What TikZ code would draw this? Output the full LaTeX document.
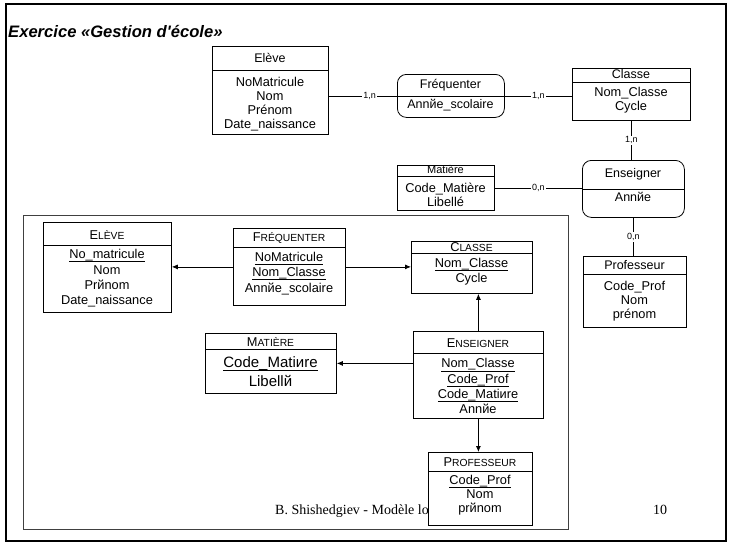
\documentclass[tikz,border=0pt]{standalone}
\usepackage{fontspec}
\setmainfont{Liberation Sans}
\newfontfamily\footfont{Liberation Serif}
\usetikzlibrary{positioning,arrows.meta}
\newcommand\souligne[1]{\underline{\smash{#1}\rule[-1.5pt]{0pt}{9.5pt}}}

\begin{document}
\begin{tikzpicture}[x=1pt,y=-1pt,
  ent/.style={draw,line width=0.8pt,inner sep=0pt,anchor=north west},
  asso/.style={draw,line width=0.8pt,rounded corners=9pt,inner sep=0pt,anchor=north west},
  attr/.style={inner sep=0pt,align=center,font=\fontsize{12.8}{14}\selectfont},
  rattr/.style={inner sep=0pt,align=center,font=\fontsize{12.8}{15.3}\selectfont},
  hd/.style={inner sep=0pt,font=\fontsize{12.5}{14}\selectfont},
  sc/.style={inner sep=0pt,font=\fontsize{10.3}{11}\selectfont},
  card/.style={fill=white,inner sep=1pt,font=\fontsize{9}{10}\selectfont},
  arr/.style={line width=0.8pt,-{Latex[length=6pt,width=5pt]}}]
\useasboundingbox (0,0) rectangle (731,546);
\draw[line width=2.5pt] (6,4) rectangle (726,541);
\node[anchor=west,inner sep=0pt,font=\fontsize{16.6}{18}\selectfont\bfseries\itshape] (titre) at (8,31) {Exercice «Gestion d\textquotesingle école»};

% modele conceptuel
\node[ent,minimum width=116,minimum height=88] (eleve) at (212,46) {};
\node[hd] (eleve-h) at (270,58) {Elève};
\draw[line width=0.8pt] (eleve.west |- 0,70) -- (eleve.east |- 0,70);
\node[attr] (eleve-a) at (270,104) {NoMatricule\\Nom\\Prénom\\Date\_naissance};

\node[asso,minimum width=107,minimum height=43] (freq) at (397,74) {};
\node[hd] (freq-h) at (450.5,85) {Fréquenter};
\node[hd] (freq-a) at (450.5,105) {Annйe\_scolaire};
\draw[line width=0.8pt] (freq.west) -- (freq.east);

\node[ent,minimum width=118,minimum height=52] (classe) at (572,68) {};
\node[hd] (classe-h) at (631,74.5) {Classe};
\draw[line width=0.8pt] (classe.west |- 0,82) -- (classe.east |- 0,82);
\node[attr] (classe-a) at (631,100) {Nom\_Classe\\Cycle};

\node[asso,minimum width=102,minimum height=57] (ens) at (582,160) {};
\node[hd] (ens-h) at (633,174) {Enseigner};
\node[hd] (ens-a) at (633,197) {Annйe};
\draw[line width=0.8pt] (ens.west) -- (ens.east);

\node[ent,minimum width=97,minimum height=45] (mat) at (397,165) {};
\node[hd,font=\fontsize{11}{12}\selectfont] (mat-h) at (445.5,170) {Matière};
\draw[line width=0.8pt] (mat.west |- 0,176) -- (mat.east |- 0,176);
\node[attr] (mat-a) at (445.5,195) {Code\_Matière\\Libellé};

\node[ent,minimum width=103,minimum height=71] (prof) at (583,256) {};
\node[hd] (prof-h) at (634.5,265) {Professeur};
\draw[line width=0.8pt] (prof.west |- 0,274) -- (prof.east |- 0,274);
\node[attr] (prof-a) at (634.5,301) {Code\_Prof\\Nom\\prénom};

\draw[line width=0.8pt] (eleve.east |- freq.west) -- node[card,pos=0.6] {1,n} (freq.west);
\draw[line width=0.8pt] (freq.east) -- node[card] {1,n} (freq.east -| classe.west);
\draw[line width=0.8pt] (classe.south) -- node[card] {1,n} (classe.south |- ens.north);
\draw[line width=0.8pt] (mat.east) -- node[card] {0,n} (mat.east -| ens.west);
\draw[line width=0.8pt] (ens.south) -- node[card] {0,n} (ens.south |- prof.north);

% modele relationnel
\draw[line width=0.8pt,black!75] (23,215) rectangle (568,529);
\node[anchor=base west,inner sep=0pt,font=\footfont\fontsize{14}{16}\selectfont] (pied) at (275,514) {B. Shishedgiev - Modèle lo};
\node[anchor=base,inner sep=0pt,font=\footfont\fontsize{14}{16}\selectfont] (page) at (660,514) {10};

\node[ent,minimum width=128,minimum height=90] (releve) at (43,222) {};
\node[sc] (releve-h) at (107,235) {{\fontsize{12.8}{12}\selectfont E}LÈVE};
\draw[line width=0.8pt] (releve.west |- 0,245) -- (releve.east |- 0,245);
\node[rattr] (releve-a) at (107,279) {\souligne{No\_matricule}\\Nom\\Prйnom\\Date\_naissance};

\node[ent,minimum width=112,minimum height=77] (rfreq) at (233,228) {};
\node[sc] (rfreq-h) at (289,238) {{\fontsize{12.8}{12}\selectfont F}RÉQUENTER};
\draw[line width=0.8pt] (rfreq.west |- 0,247) -- (rfreq.east |- 0,247);
\node[rattr] (rfreq-a) at (289,274) {\souligne{NoMatricule}\\\souligne{Nom\_Classe}\\Annйe\_scolaire};

\node[ent,minimum width=121,minimum height=52] (rclasse) at (411,241) {};
\node[sc] (rclasse-h) at (471.5,247) {{\fontsize{12.8}{12}\selectfont C}LASSE};
\draw[line width=0.8pt] (rclasse.west |- 0,253) -- (rclasse.east |- 0,253);
\node[rattr] (rclasse-a) at (471.5,272) {\souligne{Nom\_Classe}\\Cycle};

\node[ent,minimum width=131,minimum height=60] (rmat) at (205,333) {};
\node[sc] (rmat-h) at (270.5,342) {{\fontsize{12.8}{12}\selectfont M}ATIÈRE};
\draw[line width=0.8pt] (rmat.west |- 0,349) -- (rmat.east |- 0,349);
\node[rattr,font=\fontsize{15}{18.5}\selectfont] (rmat-a) at (270.5,373) {\souligne{Code\_Matiиre}\\Libellй};

\node[ent,minimum width=130,minimum height=87] (rens) at (413,331) {};
\node[sc] (rens-h) at (478,343) {{\fontsize{12.8}{12}\selectfont E}NSEIGNER};
\draw[line width=0.8pt] (rens.west |- 0,353) -- (rens.east |- 0,353);
\node[rattr] (rens-a) at (478,387) {\souligne{Nom\_Classe}\\\souligne{Code\_Prof}\\\souligne{Code\_Matiиre}\\Annйe};

\node[ent,fill=white,minimum width=104,minimum height=73] (rprof) at (428,452) {};
\node[sc] (rprof-h) at (480,462) {{\fontsize{12.8}{12}\selectfont P}ROFESSEUR};
\draw[line width=0.8pt] (rprof.west |- 0,471) -- (rprof.east |- 0,471);
\node[rattr,font=\fontsize{12.8}{14}\selectfont] (rprof-a) at (480,496) {\souligne{Code\_Prof}\\Nom\\prйnom};

\draw[arr] (rfreq.west) -- (rfreq.west -| releve.east);
\draw[arr] (rfreq.east) -- (rfreq.east -| rclasse.west);
\draw[arr] (rens.north) -- (rens.north |- rclasse.south);
\draw[arr] (rens.west |- rmat.east) -- (rmat.east);
\draw[arr] (rens.south) -- (rens.south |- rprof.north);
\end{tikzpicture}
\end{document}
